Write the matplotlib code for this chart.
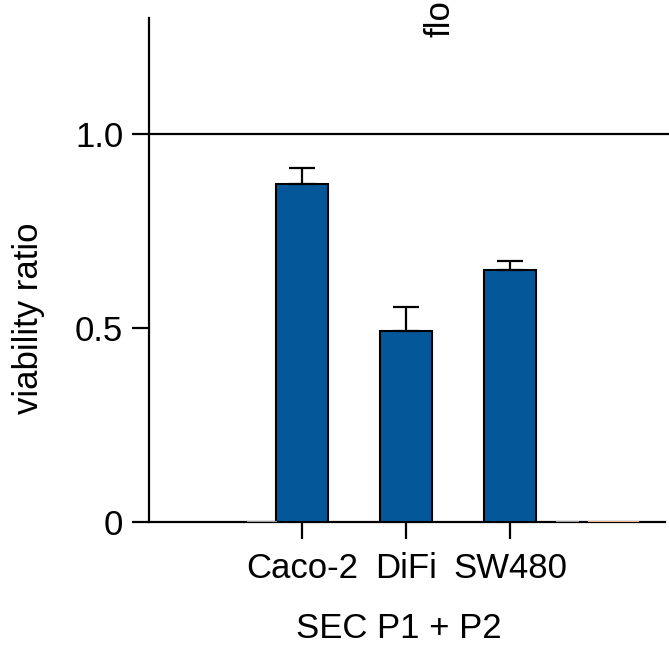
import matplotlib.pyplot as plt

plt.rcParams['font.family'] = ['Liberation Sans', 'DejaVu Sans']

# Viability ratios per cell line (mean and upper error)
cell_lines = ['Caco-2', 'DiFi', 'SW480']
viability = [0.873, 0.494, 0.649]
viability_err = [0.040, 0.060, 0.023]
bar_color = '#04589a'

fig = plt.figure(figsize=(6.69, 6.48), dpi=100)
ax = fig.add_axes([0.2227, 0.1944, 0.7773, 0.7778])

x = list(range(1, len(cell_lines) + 1))
ax.bar(x, viability, width=0.5, color=bar_color, edgecolor='black', linewidth=1.5,
       yerr=[[0] * len(viability_err), viability_err], capsize=9.5,
       error_kw=dict(elinewidth=1.6, capthick=1.6, ecolor='black'), zorder=3)

# faint zero-height bars of the neighbouring groups
ax.bar([0.62, 3.55], [0, 0], width=[0.29, 0.22], edgecolor='#9a9a9a', linewidth=1.5, zorder=4)
ax.bar([4.0], [0], width=0.49, edgecolor='#e8b78c', linewidth=1.5, zorder=4)

# reference line at ratio 1
ax.axhline(1.0, color='black', linewidth=1.6, zorder=2)

ax.set_xlim(-0.47, 4.53)
ax.set_ylim(0, 1.30)
ax.set_xticks(x)
ax.set_xticklabels(cell_lines)
ax.set_yticks([0, 0.5, 1.0])
ax.set_yticklabels(['0', '0.5', '1.0'])

for side in ['top', 'right']:
    ax.spines[side].set_visible(False)
ax.spines['left'].set_linewidth(1.6)
ax.spines['bottom'].set_linewidth(1.6)
ax.spines['bottom'].set_bounds(-0.47, 4.49)

ax.tick_params(axis='both', direction='out', length=12.5, width=1.6, labelsize=25)
ax.tick_params(axis='y', pad=6)
ax.tick_params(axis='x', pad=9)

ax.set_ylabel('viability ratio', fontsize=25)
ax.yaxis.set_label_coords(-0.2, 0.405)
ax.set_xlabel('SEC P1 + P2', fontsize=25)
ax.xaxis.set_label_coords(0.48, -0.178)

ax.text(2.33, 1.25, 'flo', rotation=90, ha='center', va='bottom', fontsize=25)

fig.savefig('out.png', dpi=100)
